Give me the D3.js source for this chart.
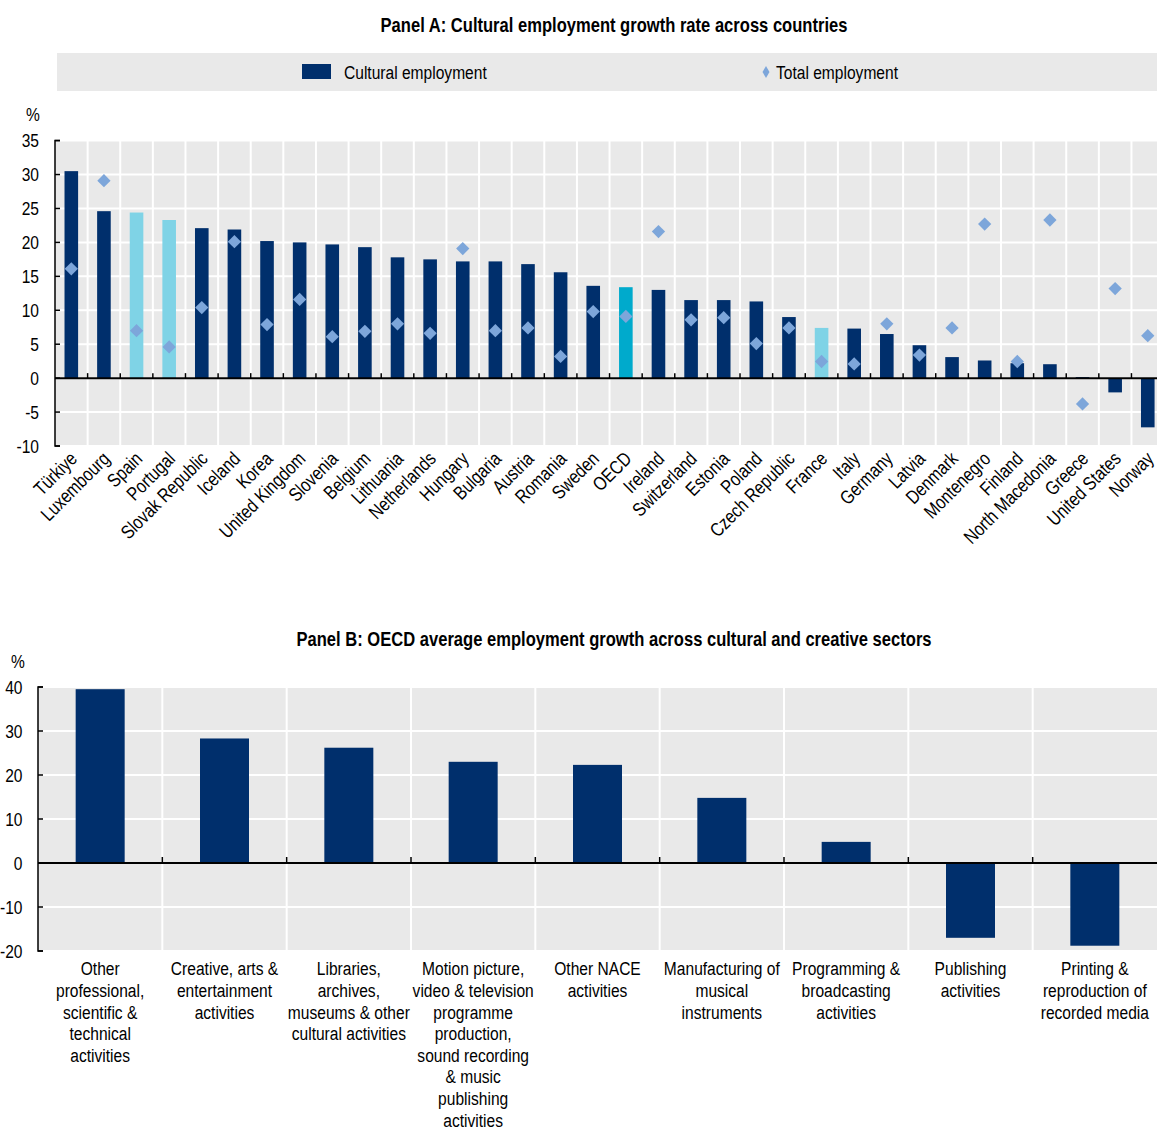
<!DOCTYPE html>
<html><head><meta charset="utf-8">
<script src="https://cdn.jsdelivr.net/npm/d3@7"></script>
<style>
body{margin:0;background:#fff;}
svg text{font-family:'Liberation Sans Narrow','Arial Narrow','Liberation Sans',Arial,sans-serif;fill:#000;}
</style></head>
<body><svg id="c" width="1157" height="1131"></svg>
<script>
const countries = ["Türkiye","Luxembourg","Spain","Portugal","Slovak Republic","Iceland","Korea","United Kingdom","Slovenia","Belgium","Lithuania","Netherlands","Hungary","Bulgaria","Austria","Romania","Sweden","OECD","Ireland","Switzerland","Estonia","Poland","Czech Republic","France","Italy","Germany","Latvia","Denmark","Montenegro","Finland","North Macedonia","Greece","United States","Norway"];
const culturalEmployment = [30.5,24.6,24.4,23.3,22.1,21.9,20.2,20.0,19.7,19.3,17.8,17.5,17.2,17.2,16.8,15.6,13.6,13.4,13.0,11.5,11.5,11.3,9.0,7.4,7.3,6.5,4.85,3.1,2.6,2.2,2.05,0.15,-2.1,-7.25];
const totalEmployment = [16.1,29.1,7.0,4.6,10.4,20.1,7.9,11.6,6.1,6.9,8.0,6.6,19.1,7.0,7.4,3.2,9.8,9.1,21.6,8.6,8.9,5.1,7.4,2.45,2.1,8.0,3.4,7.4,22.7,2.45,23.3,-3.8,13.2,6.25];
const lightCountries = ["Spain","Portugal","France"];
const aggregateCountry = "OECD";
const ticksA = [-10,-5,0,5,10,15,20,25,30,35];

const sectors = [
 ["Other","professional,","scientific &","technical","activities"],
 ["Creative, arts &","entertainment","activities"],
 ["Libraries,","archives,","museums & other","cultural activities"],
 ["Motion picture,","video & television","programme","production,","sound recording","& music","publishing","activities"],
 ["Other NACE","activities"],
 ["Manufacturing of","musical","instruments"],
 ["Programming &","broadcasting","activities"],
 ["Publishing","activities"],
 ["Printing &","reproduction of","recorded media"]
];
const sectorGrowth = [39.5,28.3,26.2,23.0,22.3,14.8,4.8,-17.0,-18.8];
const ticksB = [-20,-10,0,10,20,30,40];

const NAVY="#002F6C", LIGHT="#7FD3E6", TEAL="#00AACC", DIAM="#7DA6DA", BG="#E9E9E9";
const SX = 0.82; // narrow font emulation
const svg = d3.select("#c");

function ntext(parent, x, y, str, size, anchor, rot, bold){
  const t = parent.append("text")
    .attr("transform", `translate(${x},${y})` + (rot?` rotate(${rot})`:"") + ` scale(${SX},1)`)
    .attr("text-anchor", anchor||"start")
    .style("font-size", size+"px");
  if (bold) t.style("font-weight","bold");
  if (str!==null) t.text(str);
  return t;
}

// ---------- Panel A ----------
ntext(svg, 614, 32, "Panel A: Cultural employment growth rate across countries", 20.2, "middle", 0, true);

svg.append("rect").attr("x",57).attr("y",53).attr("width",1100).attr("height",38).attr("fill",BG);
svg.append("rect").attr("x",302).attr("y",64).attr("width",29).attr("height",15).attr("fill",NAVY);
ntext(svg, 344, 79, "Cultural employment", 19, "start");
svg.append("path").attr("d",d3.symbol(d3.symbolDiamond,42)()).attr("transform","translate(766,72)").attr("fill",DIAM);
ntext(svg, 776, 79, "Total employment", 19, "start");

const xA = d3.scaleBand().domain(countries).range([55, 55+34*32.62]);
const yA = d3.scaleLinear().domain([-10,35]).range([446,140.6]);
const gA = svg.append("g");
gA.append("rect").attr("x",55).attr("y",yA(35)).attr("width",1157-55).attr("height",yA(-10)-yA(35)).attr("fill",BG);
gA.selectAll(".hg").data(ticksA).join("line")
  .attr("x1",55).attr("x2",1157).attr("y1",d=>yA(d)).attr("y2",d=>yA(d))
  .attr("stroke","#fff").attr("stroke-width",2);
gA.selectAll(".vg").data(countries.slice(1)).join("line")
  .attr("x1",d=>xA(d)).attr("x2",d=>xA(d)).attr("y1",yA(35)).attr("y2",yA(-10))
  .attr("stroke","#fff").attr("stroke-width",2);
const bwA = 13.6;
gA.selectAll(".bar").data(countries).join("rect")
  .attr("x",d=>xA(d)+xA.bandwidth()/2-bwA/2)
  .attr("width",bwA)
  .attr("y",(d,i)=>yA(Math.max(0,culturalEmployment[i])))
  .attr("height",(d,i)=>Math.abs(yA(culturalEmployment[i])-yA(0)))
  .attr("fill",d=>d===aggregateCountry?TEAL:(lightCountries.includes(d)?LIGHT:NAVY));
gA.append("line").attr("x1",55).attr("x2",1157).attr("y1",yA(0)).attr("y2",yA(0)).attr("stroke","#000").attr("stroke-width",2);
gA.selectAll(".zt").data(countries.slice(1)).join("line")
  .attr("x1",d=>xA(d)).attr("x2",d=>xA(d)).attr("y1",yA(0)-5).attr("y2",yA(0))
  .attr("stroke","#000").attr("stroke-width",1.5);
gA.selectAll(".dm").data(countries).join("path")
  .attr("d",d3.symbol(d3.symbolSquare,88)())
  .attr("transform",(d,i)=>`translate(${xA(d)+xA.bandwidth()/2},${yA(totalEmployment[i])}) rotate(45)`)
  .attr("fill",DIAM);
gA.append("path").attr("d",`M60,${yA(35)}H55V${yA(-10)}H60`).attr("fill","none").attr("stroke","#000").attr("stroke-width",1.5);
gA.selectAll(".yt").data(ticksA).join("line")
  .attr("x1",55).attr("x2",60).attr("y1",d=>yA(d)).attr("y2",d=>yA(d)).attr("stroke","#000").attr("stroke-width",1.5);
ticksA.forEach(v=>ntext(gA, 39, yA(v)+6.5, String(v), 19, "end"));
ntext(svg, 33, 121, "%", 19, "middle");
countries.forEach(c=>ntext(gA, xA(c)+xA.bandwidth()/2+7, 460, c, 19.3, "end", -45));

// ---------- Panel B ----------
ntext(svg, 614, 646, "Panel B: OECD average employment growth across cultural and creative sectors", 20.2, "middle", 0, true);
const sectorKeys = sectors.map(s=>s.join(" "));
const xB = d3.scaleBand().domain(sectorKeys).range([38,1157]);
const yB = d3.scaleLinear().domain([-20,40]).range([951,687]);
const gB = svg.append("g");
gB.append("rect").attr("x",38).attr("y",yB(40)).attr("width",1157-38).attr("height",yB(-20)-yB(40)).attr("fill",BG);
gB.selectAll(".hg").data(ticksB).join("line")
  .attr("x1",38).attr("x2",1157).attr("y1",d=>yB(d)).attr("y2",d=>yB(d))
  .attr("stroke","#fff").attr("stroke-width",2);
gB.selectAll(".vg").data(sectorKeys.slice(1)).join("line")
  .attr("x1",d=>xB(d)).attr("x2",d=>xB(d)).attr("y1",yB(40)).attr("y2",yB(-20))
  .attr("stroke","#fff").attr("stroke-width",2);
const bwB = 49;
gB.selectAll(".bar").data(sectorKeys).join("rect")
  .attr("x",d=>xB(d)+xB.bandwidth()/2-bwB/2).attr("width",bwB)
  .attr("y",(d,i)=>yB(Math.max(0,sectorGrowth[i])))
  .attr("height",(d,i)=>Math.abs(yB(sectorGrowth[i])-yB(0)))
  .attr("fill",NAVY);
gB.append("line").attr("x1",38).attr("x2",1157).attr("y1",yB(0)).attr("y2",yB(0)).attr("stroke","#000").attr("stroke-width",2);
gB.selectAll(".zt").data(sectorKeys.slice(1)).join("line")
  .attr("x1",d=>xB(d)).attr("x2",d=>xB(d)).attr("y1",yB(0)-6).attr("y2",yB(0))
  .attr("stroke","#000").attr("stroke-width",1.5);
gB.append("path").attr("d",`M43,${yB(40)}H38V${yB(-20)}H43`).attr("fill","none").attr("stroke","#000").attr("stroke-width",1.5);
gB.selectAll(".yt").data(ticksB).join("line")
  .attr("x1",38).attr("x2",43).attr("y1",d=>yB(d)).attr("y2",d=>yB(d)).attr("stroke","#000").attr("stroke-width",1.5);
ticksB.forEach(v=>ntext(gB, 22.5, yB(v)+6.5, String(v), 19, "end"));
ntext(svg, 18, 668, "%", 19, "middle");
sectors.forEach((lines,i)=>{
  const cx = xB(sectorKeys[i])+xB.bandwidth()/2;
  const t = ntext(gB, cx, 0, null, 19, "middle");
  lines.forEach((l,j)=>t.append("tspan").attr("x",0).attr("y",975.5+j*21.6).text(l));
});
</script></body></html>
